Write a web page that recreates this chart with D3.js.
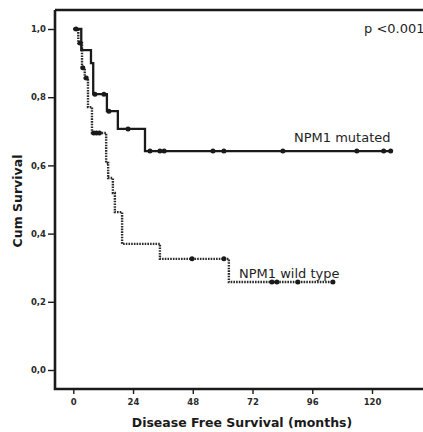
<!DOCTYPE html>
<html><head><meta charset="utf-8">
<script src="https://cdn.jsdelivr.net/npm/d3@7"></script>
<style>html,body{margin:0;padding:0;background:#fff;}svg{display:block;}</style>
</head><body>
<svg id="chart" width="423" height="432"></svg>
<script>
// ---- data (months, cumulative survival) ----
const mutTimes = [0, 3.2, 7.1, 8.0, 13.5, 17.9, 28.8, 127.5];
const mutSurv  = [1.0, 0.938, 0.90, 0.809, 0.759, 0.707, 0.642, 0.642];
const mutCensored = [1.1, 8.7, 12.3, 14.3, 22.0, 30.8, 34.8, 36.5, 56.1, 60.5, 84.2, 113.9, 124.7, 127.5];

const wtTimes = [0, 2.0, 3.5, 4.6, 5.9, 7.5, 13.2, 14.0, 15.9, 16.7, 19.6, 34.8, 62.5, 104.3];
const wtSurv  = [1.0, 0.959, 0.886, 0.856, 0.771, 0.695, 0.607, 0.563, 0.519, 0.463, 0.370, 0.326, 0.258, 0.258];
const wtCensored = [2.7, 3.8, 5.2, 8.2, 9.3, 10.5, 47.7, 60.5, 79.8, 81.8, 90.2, 104.3];

const xTicks = [0, 24, 48, 72, 96, 120];
const yTicks = [0, 0.2, 0.4, 0.6, 0.8, 1.0];
const groupLabels = ["NPM1 mutated", "NPM1 wild type"];
const pLabel = "p <0.001";
const xTitle = "Disease Free Survival (months)";
const yTitle = "Cum Survival";

// ---- layout ----
const svg = d3.select("#chart");
const frameL = 55, frameT = 10, frameB = 389;
const x = d3.scaleLinear().domain([0, 120]).range([73.3, 372]);
const y = d3.scaleLinear().domain([0, 1]).range([370, 29]);
const ink = "#1a1a1a";
const loc = d3.formatLocale({decimal: ",", thousands: ".", grouping: [3], currency: ["", ""]});
const fmt = loc.format(".1f");

// frame
svg.append("path")
  .attr("d", `M${frameL},${frameT}H440M${frameL},${frameT}V${frameB}H440`)
  .attr("fill", "none").attr("stroke", ink).attr("stroke-width", 2.6);

// y axis
const yAxis = svg.append("g").attr("transform", `translate(${frameL - 1},0)`)
  .call(d3.axisLeft(y).tickValues(yTicks).tickFormat(fmt).tickSize(6).tickPadding(2));
yAxis.select(".domain").remove();
yAxis.selectAll("line").attr("stroke", ink).attr("stroke-width", 1.4);
yAxis.selectAll("text").attr("font-family", "DejaVu Sans").attr("font-weight", "bold")
  .attr("font-size", "8.5px").attr("fill", "#2a2a2a");

// x axis
const xAxis = svg.append("g").attr("transform", `translate(0,${frameB})`)
  .call(d3.axisBottom(x).tickValues(xTicks).tickFormat(d3.format("d")).tickSize(5).tickPadding(5));
xAxis.select(".domain").remove();
xAxis.selectAll("line").attr("stroke", ink).attr("stroke-width", 1.4);
xAxis.selectAll("text").attr("font-family", "DejaVu Sans").attr("font-weight", "bold")
  .attr("font-size", "8.5px").attr("fill", "#2a2a2a");

// titles
svg.append("text").attr("x", 242).attr("y", 427).attr("text-anchor", "middle")
  .attr("font-family", "DejaVu Sans").attr("font-weight", "bold").attr("font-size", "12.5px")
  .attr("fill", ink).text(xTitle);
svg.append("text").attr("transform", "translate(22,201) rotate(-90)").attr("text-anchor", "middle")
  .attr("font-family", "DejaVu Sans").attr("font-weight", "bold").attr("font-size", "12.5px")
  .attr("fill", ink).text(yTitle);

// curves
const line = d3.line().x(d => x(d[0])).y(d => y(d[1])).curve(d3.curveStepAfter);
function stepAt(times, surv, t) {
  let i = d3.bisectRight(times, t) - 1;
  return surv[Math.max(0, i)];
}
function drawGroup(times, surv, cens, dashed) {
  const pts = times.map((t, i) => [t, surv[i]]);
  svg.append("path").datum(pts).attr("d", line).attr("fill", "none")
    .attr("stroke", dashed ? "#2a2a2a" : ink).attr("stroke-width", dashed ? 2.4 : 2.3)
    .attr("stroke-dasharray", dashed ? "1.6,1.1" : null);
  svg.append("g").selectAll("circle").data(cens).join("circle")
    .attr("cx", t => x(t)).attr("cy", t => y(stepAt(times, surv, t)))
    .attr("r", 2.5).attr("fill", ink);
}
drawGroup(wtTimes, wtSurv, wtCensored, true);
drawGroup(mutTimes, mutSurv, mutCensored, false);

// labels
const lab = (t, xx, yy) => svg.append("text").attr("x", xx).attr("y", yy)
  .attr("font-family", "DejaVu Sans").attr("font-size", "13px").attr("fill", "#1e1e1e").text(t);
lab(pLabel, 364, 33);
lab(groupLabels[0], 294, 142);
lab(groupLabels[1], 239, 278);
</script>
</body></html>
